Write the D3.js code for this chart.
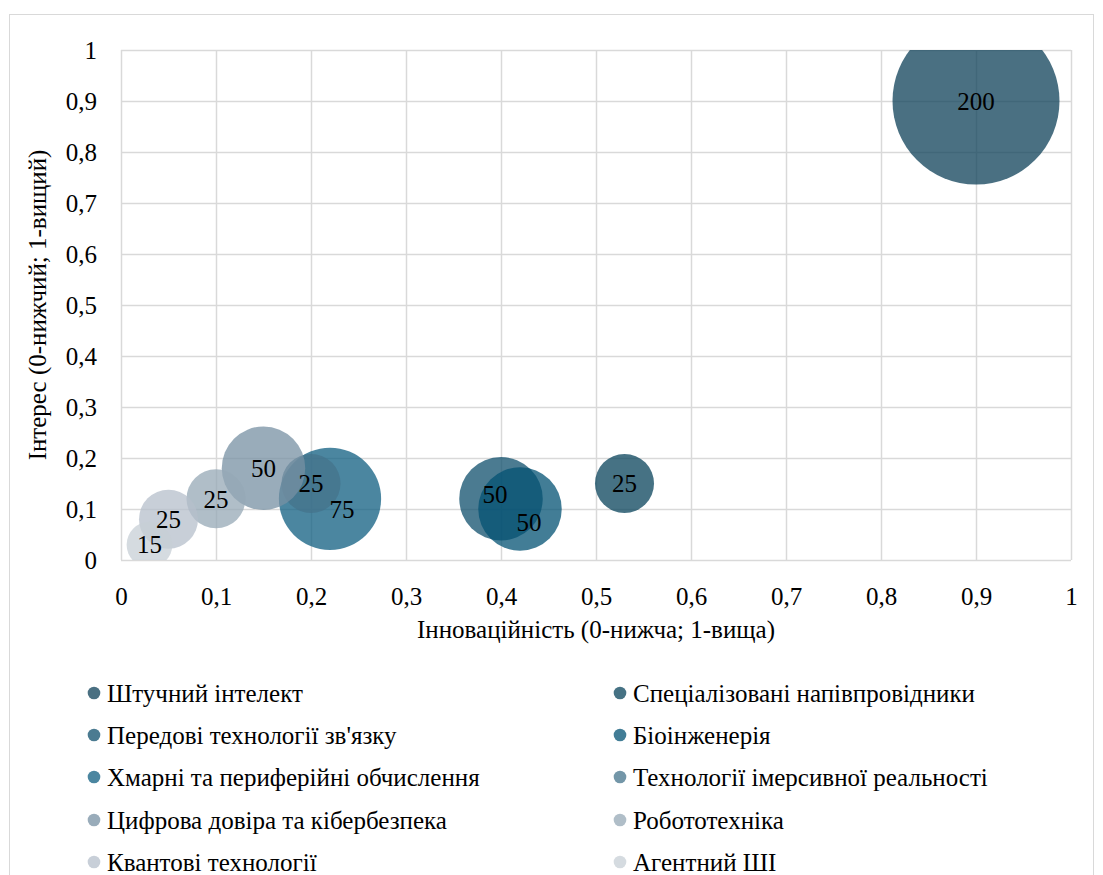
<!DOCTYPE html>
<html><head><meta charset="utf-8">
<script src="https://cdn.jsdelivr.net/npm/d3@7"></script>
</head><body style="margin:0;background:#fff">
<svg id="c" width="1103" height="875"></svg>
<script>
const names = ["Штучний інтелект","Спеціалізовані напівпровідники","Передові технології зв'язку","Біоінженерія","Хмарні та периферійні обчислення","Технології імерсивної реальності","Цифрова довіра та кібербезпека","Робототехніка","Квантові технології","Агентний ШІ"];
const innovation = [0.9,0.53,0.4,0.42,0.22,0.2,0.15,0.1,0.05,0.03];
const interest   = [0.9,0.15,0.12,0.10,0.12,0.15,0.18,0.12,0.08,0.03];
const sizes      = [200,25,50,50,75,25,50,25,25,15];
const colors = ["#0e4058","#08435b","#0f4f6c","#035273","#0f5e80","#44738b","#7790a3","#96a8b6","#b6bfcb","#c7cfd6"];
const xTicks = [0,0.1,0.2,0.3,0.4,0.5,0.6,0.7,0.8,0.9,1];
const yTicks = [0,0.1,0.2,0.3,0.4,0.5,0.6,0.7,0.8,0.9,1];
const xTitle = "Інноваційність (0-нижча; 1-вища)";
const yTitle = "Інтерес (0-нижчий; 1-вищий)";
// manual label nudges (px) as in the original chart
const labelNudge = {2:[-6,-5],3:[9,13],4:[12,10]};

const FONT = "Tinos, serif";
const FS = 25;
const svg = d3.select("#c");
const L=121,R=1071,T=50,B=560;
const fmt = v => String(v).replace(".",",");
const x = d3.scaleLinear().domain([0,1]).range([L,R]);
const y = d3.scaleLinear().domain([0,1]).range([B,T]);
const r = d3.scaleSqrt().domain([0,200]).range([0,83.5]);

svg.append("rect").attr("x",9.5).attr("y",14.5).attr("width",1084).attr("height",900)
  .attr("fill","#fff").attr("stroke","#d9d9d9");

// grid
const g = svg.append("g");
g.selectAll(".gx").data(xTicks).join("line")
  .attr("x1",d=>Math.round(x(d))+0.5).attr("x2",d=>Math.round(x(d))+0.5).attr("y1",T).attr("y2",B)
  .attr("stroke","#d9d9d9").attr("stroke-width",1.5);
g.selectAll(".gy").data(yTicks).join("line")
  .attr("y1",d=>Math.round(y(d))+0.5).attr("y2",d=>Math.round(y(d))+0.5).attr("x1",L).attr("x2",R)
  .attr("stroke","#d9d9d9").attr("stroke-width",1.5);

// axes (labels only)
const xa = svg.append("g").attr("transform",`translate(0,${B})`)
  .call(d3.axisBottom(x).tickValues(xTicks).tickFormat(fmt).tickSize(0).tickPadding(27));
const ya = svg.append("g").attr("transform",`translate(${L},0)`)
  .call(d3.axisLeft(y).tickValues(yTicks).tickFormat(fmt).tickSize(0).tickPadding(24));
[xa,ya].forEach(a=>{a.attr("font-family",FONT).attr("font-size",FS);a.select(".domain").remove();});

// bubbles
svg.append("clipPath").attr("id","pc").append("rect").attr("x",L).attr("y",T).attr("width",R-L).attr("height",B-T);
const data = names.map((n,i)=>({n,i,x:innovation[i],y:interest[i],s:sizes[i],c:colors[i]}));
svg.append("g").attr("clip-path","url(#pc)").selectAll("circle").data(data).join("circle")
  .attr("cx",d=>x(d.x)).attr("cy",d=>y(d.y)).attr("r",d=>r(d.s))
  .attr("fill",d=>d.c).attr("fill-opacity",0.75);
svg.append("g").selectAll("text").data(data).join("text")
  .attr("x",d=>x(d.x)+((labelNudge[d.i]||[0,0])[0]))
  .attr("y",d=>y(d.y)+((labelNudge[d.i]||[0,0])[1]))
  .attr("text-anchor","middle").attr("dy","0.35em")
  .text(d=>d.s);

// axis titles
svg.append("text").attr("x",(L+R)/2).attr("y",638).attr("text-anchor","middle").text(xTitle);
svg.append("text").attr("transform","translate(46,305) rotate(-90)").attr("text-anchor","middle").text(yTitle);

// legend
const lg = svg.append("g");
const colX=[94,620], rowY=[693,735,777,820,862];
data.forEach(d=>{
  const cx=colX[d.i%2], cy=rowY[Math.floor(d.i/2)];
  lg.append("circle").attr("cx",cx).attr("cy",cy).attr("r",6.3).attr("fill",d.c).attr("fill-opacity",0.75);
  lg.append("text").attr("x",cx+13).attr("y",cy).attr("dy","0.35em").text(d.n);
});

svg.selectAll("text").attr("font-family",FONT).attr("font-size",FS).attr("fill","#000");
</script>
</body></html>
